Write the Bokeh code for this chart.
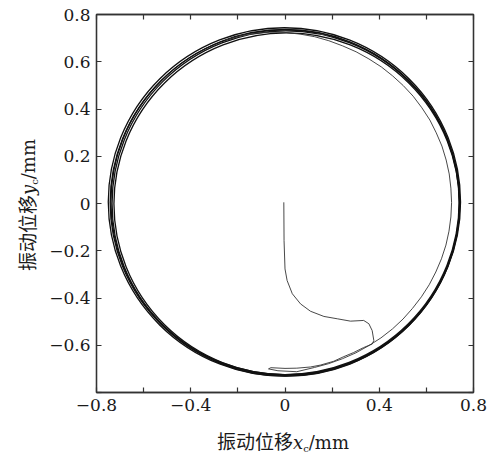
from bokeh.plotting import figure
from bokeh.models import FixedTicker, LinearAxis, CustomJSTickFormatter, Range1d, Div
from bokeh.layouts import row, column
from bokeh.embed import file_html
from bokeh.resources import INLINE

# ---------------- data (mm) ----------------
x_ticks = [-0.8, -0.4, 0.0, 0.4, 0.8]
x_minor_ticks = [-0.6, -0.2, 0.2, 0.6]
y_ticks = [-0.6, -0.4, -0.2, 0.0, 0.2, 0.4, 0.6, 0.8]
y_minor_ticks = [-0.8]

# start-up transient from the centre to the orbit
transient_x = [-0.005, -0.004, 0.000, 0.009, 0.031, 0.066, 0.108, 0.165, 0.222, 0.278, 0.334, 0.356,
               0.370, 0.377, 0.370, 0.333, 0.291, 0.250, 0.206, 0.150, 0.108, 0.050, 0.000, -0.060,
               -0.070, -0.030, 0.050, 0.125]
transient_y = [0.005, -0.157, -0.277, -0.326, -0.382, -0.425, -0.456, -0.478, -0.488, -0.498, -0.495, -0.509,
               -0.538, -0.580, -0.595, -0.610, -0.631, -0.648, -0.668, -0.684, -0.692, -0.697, -0.698, -0.695,
               -0.700, -0.708, -0.712, -0.694]

# first (inner) pass of the orbit on the right-hand side
inner_x = [0.125, 0.185, 0.244, 0.301, 0.355, 0.407, 0.456, 0.501, 0.541, 0.579, 0.612, 0.640, 0.664,
           0.683, 0.696, 0.704, 0.707, 0.704, 0.697, 0.684, 0.666, 0.642, 0.615, 0.581, 0.544, 0.502,
           0.457, 0.409, 0.356, 0.302, 0.245, 0.186, 0.126, 0.064, 0.000, -0.064, -0.128, -0.192, -0.254]
inner_y = [-0.694, -0.678, -0.657, -0.632, -0.602, -0.569, -0.531, -0.489, -0.444, -0.395, -0.344, -0.290,
           -0.234, -0.176, -0.117, -0.057, 0.004, 0.065, 0.125, 0.184, 0.243, 0.299, 0.353, 0.405, 0.454,
           0.499, 0.540, 0.578, 0.612, 0.642, 0.667, 0.689, 0.706, 0.717, 0.724, 0.725, 0.720, 0.709, 0.691]

# steady orbit loops (each loop read as an ellipse: centre, full width, full height)
loop_cx = [0.000, -0.0025, 0.007, 0.000, 0.004]
loop_cy = [0.004, 0.0065, -0.0015, 0.0065, 0.000]
loop_w = [1.484, 1.495, 1.466, 1.478, 1.476]
loop_h = [1.462, 1.475, 1.447, 1.461, 1.462]

# ---------------- layout sizes ----------------
YLAB_W = 44          # width of the rotated y-title strip
FIG_W, FIG_H = 490 - YLAB_W, 420
XLAB_H = 38

p = figure(width=FIG_W, height=FIG_H, x_range=Range1d(-0.8, 0.8), y_range=Range1d(-0.8, 0.8),
           output_backend="svg", toolbar_location=None,
           min_border_left=96 - YLAB_W, min_border_right=17, min_border_top=14, min_border_bottom=28,
           background_fill_color="white", border_fill_color="white", margin=0)
p.grid.visible = False
p.outline_line_color = "#333333"
p.outline_line_width = 1.3

p.ellipse(x=loop_cx, y=loop_cy, width=loop_w, height=loop_h,
          fill_color=None, line_color="#111111", line_width=1.3)
p.line(inner_x, inner_y, line_color="#333333", line_width=0.9, line_join="round")
p.line(transient_x, transient_y, line_color="#333333", line_width=0.9, line_join="round")

fmt = CustomJSTickFormatter(code="""
if (Math.abs(tick) < 1e-9) return '0';
var s = Math.abs(tick).toFixed(1);
return tick < 0 ? '\\u2212' + s : s;
""")
blank = CustomJSTickFormatter(code="return '';")

def style(ax, ticker, show):
    ax.ticker = ticker
    ax.major_tick_in = 5
    ax.major_tick_out = 0
    ax.minor_tick_in = 5
    ax.minor_tick_out = 0
    ax.axis_line_color = "#333333"
    ax.axis_line_width = 1.3
    ax.major_tick_line_color = "#333333"
    ax.minor_tick_line_color = "#333333"
    ax.major_tick_line_width = 1.2
    ax.minor_tick_line_width = 1.2
    ax.major_label_text_font = "DejaVu Serif"
    ax.major_label_text_color = "#1a1a1a"
    if show:
        ax.formatter = fmt
        ax.major_label_text_font_size = "17px"
        ax.major_label_standoff = 6
    else:
        ax.formatter = blank
        ax.major_label_text_font_size = "1px"
        ax.major_label_standoff = 0

style(p.xaxis[0], FixedTicker(ticks=x_ticks, minor_ticks=x_minor_ticks), True)
style(p.yaxis[0], FixedTicker(ticks=y_ticks, minor_ticks=y_minor_ticks), True)
top_ax = LinearAxis()
right_ax = LinearAxis()
style(top_ax, FixedTicker(ticks=x_ticks, minor_ticks=x_minor_ticks), False)
style(right_ax, FixedTicker(ticks=y_ticks, minor_ticks=y_minor_ticks), False)
p.add_layout(top_ax, "above")
p.add_layout(right_ax, "right")

# ---------------- axis titles (HTML so the italic variable and subscript stay real text) ----------------
cjk = "'Noto Sans CJK SC'"
lat = "'DejaVu Serif'"

def title_html(var):
    return (f"<span style=\"font-family:{cjk};font-size:19px\">振动位移</span>"
            f"<span style=\"font-family:{lat};font-style:italic;font-size:18px\">{var}</span>"
            f"<sub style=\"font-family:{lat};font-size:10px\">c</sub>"
            f"<span style=\"font-family:{lat};font-size:18px\">/mm</span>")

xlab = Div(text=(f"<div style=\"padding-left:217px;padding-top:11px;white-space:nowrap;"
                 f"line-height:1;color:#1a1a1a\">{title_html('x')}</div>"),
           width=490, height=XLAB_H, margin=0)

ylab = Div(text=(f"<div style=\"position:relative;width:{YLAB_W}px;height:{FIG_H}px\">"
                 f"<div style=\"position:absolute;left:0;top:0;white-space:nowrap;line-height:1;color:#1a1a1a;"
                 f"transform-origin:0 0;transform:translate(17px,271px) rotate(-90deg)\">"
                 f"{title_html('y')}</div></div>"),
           width=YLAB_W, height=FIG_H, margin=0)

layout = column(row(ylab, p, spacing=0), xlab, spacing=0)

open("out.html", "w").write(file_html(layout, INLINE))
